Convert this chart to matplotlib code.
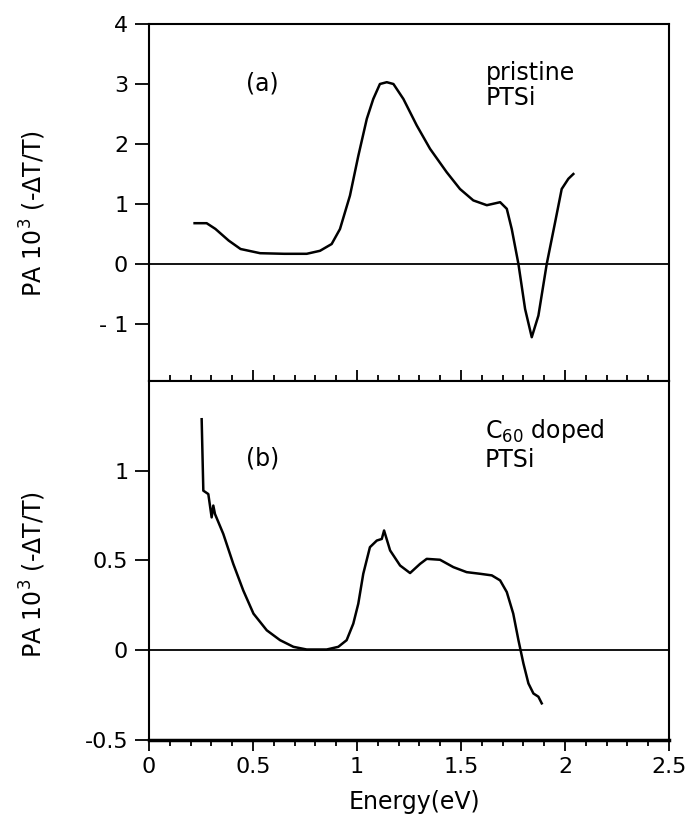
import matplotlib.pyplot as plt
from matplotlib.ticker import MultipleLocator

plt.rcParams['font.family'] = ['DejaVu Sans']
plt.rcParams['axes.unicode_minus'] = False
plt.rcParams['mathtext.fontset'] = 'dejavusans'

# (a) pristine PTSi
energy_a = [0.219, 0.277, 0.319, 0.383, 0.44, 0.534, 0.65, 0.758, 0.822, 0.878,
            0.918, 0.966, 1.006, 1.047, 1.078, 1.11, 1.143, 1.175, 1.223, 1.287,
            1.351, 1.431, 1.495, 1.559, 1.624, 1.688, 1.72, 1.744, 1.776, 1.808,
            1.84, 1.872, 1.912, 1.952, 1.984, 2.016, 2.04]
pa_a = [0.68, 0.68, 0.585, 0.39, 0.25, 0.18, 0.17, 0.17, 0.22, 0.333,
        0.583, 1.14, 1.8, 2.42, 2.75, 3.0, 3.03, 3.0, 2.75, 2.31,
        1.92, 1.53, 1.25, 1.06, 0.98, 1.03, 0.92, 0.58, 0.0, -0.75,
        -1.22, -0.86, 0.0, 0.69, 1.25, 1.42, 1.5]

# (b) C60 doped PTSi
energy_b = [0.253, 0.261, 0.285, 0.301, 0.309, 0.317, 0.357, 0.405, 0.453, 0.502,
            0.566, 0.63, 0.694, 0.758, 0.854, 0.91, 0.95, 0.982, 1.006, 1.03,
            1.062, 1.095, 1.119, 1.13, 1.159, 1.207, 1.255, 1.303, 1.335, 1.399,
            1.463, 1.527, 1.591, 1.648, 1.688, 1.72, 1.751, 1.776, 1.8, 1.824,
            1.848, 1.872, 1.888]
pa_b = [1.287, 0.889, 0.87, 0.74, 0.806, 0.759, 0.648, 0.481, 0.333, 0.204,
        0.111, 0.056, 0.019, 0.004, 0.004, 0.019, 0.056, 0.148, 0.259, 0.426,
        0.574, 0.611, 0.62, 0.667, 0.556, 0.472, 0.43, 0.481, 0.509, 0.504,
        0.463, 0.435, 0.426, 0.417, 0.389, 0.324, 0.204, 0.056, -0.074, -0.185,
        -0.241, -0.259, -0.296]

yticks_a = [-1, 0, 1, 2, 3, 4]
yticks_b = [-0.5, 0, 0.5, 1]
xticks = [0, 0.5, 1, 1.5, 2, 2.5]

fig = plt.figure(figsize=(6.9, 8.22), dpi=100)
left, width = 0.216, 0.7536
ax1 = fig.add_axes([left, 0.5365, width, 0.4343])
ax2 = fig.add_axes([left, 0.0998, width, 0.4367])

fs = 16    # tick labels
fs_t = 17  # annotations
lw = 1.8
ylab = 'PA 10$^3$ (-ΔT/T)'

# top panel
ax1.plot(energy_a, pa_a, color='black', lw=lw)
ax1.axhline(0, color='black', lw=1.3)
ax1.set_xlim(0, 2.5)
ax1.set_ylim(-1.95, 4)
ax1.set_yticks(yticks_a)
ax1.set_yticklabels(['- 1', '0', '1', '2', '3', '4'])
ax1.set_xticks([])
ax1.tick_params(axis='y', direction='out', length=10, width=1.3, labelsize=fs, pad=5)
ax1.text(0.546, 2.9, '(a)', fontsize=fs_t, ha='center', va='baseline')
ax1.text(1.62, 3.07, 'pristine', fontsize=fs_t, ha='left', va='baseline')
ax1.text(1.62, 2.65, 'PTSi', fontsize=fs_t, ha='left', va='baseline')
ax1.set_ylabel(ylab, fontsize=fs_t)
ax1.yaxis.set_label_coords(-0.195, 0.47)

# bottom panel
ax2.plot(energy_b, pa_b, color='black', lw=lw)
ax2.axhline(0, color='black', lw=1.3)
ax2.set_xlim(0, 2.5)
ax2.set_ylim(-0.5, 1.5)
ax2.set_yticks(yticks_b)
ax2.set_yticklabels(['-0.5', '0', '0.5', '1'])
ax2.set_xticks(xticks)
ax2.set_xticklabels(['0', '0.5', '1', '1.5', '2', '2.5'])
ax2.xaxis.set_minor_locator(MultipleLocator(0.1))
ax2.tick_params(axis='y', direction='out', length=10, width=1.3, labelsize=fs, pad=5)
ax2.tick_params(axis='x', which='major', direction='out', length=8, width=1.3,
                labelsize=fs, top=True, pad=4)
ax2.tick_params(axis='x', which='minor', direction='out', length=4, width=1.3, top=True)
ax2.text(0.545, 1.03, '(b)', fontsize=fs_t, ha='center', va='baseline')
ax2.text(1.615, 1.18, 'C$_{60}$ doped', fontsize=fs_t, ha='left', va='baseline')
ax2.text(1.615, 1.02, 'PTSi', fontsize=fs_t, ha='left', va='baseline')
ax2.set_ylabel(ylab, fontsize=fs_t)
ax2.yaxis.set_label_coords(-0.195, 0.46)
ax2.set_xlabel('Energy(eV)', fontsize=fs_t)
ax2.xaxis.set_label_coords(0.51, -0.14)

for ax in (ax1, ax2):
    for s in ax.spines.values():
        s.set_linewidth(1.5)
ax2.spines['bottom'].set_linewidth(2.5)

fig.savefig('out.png', dpi=100)
